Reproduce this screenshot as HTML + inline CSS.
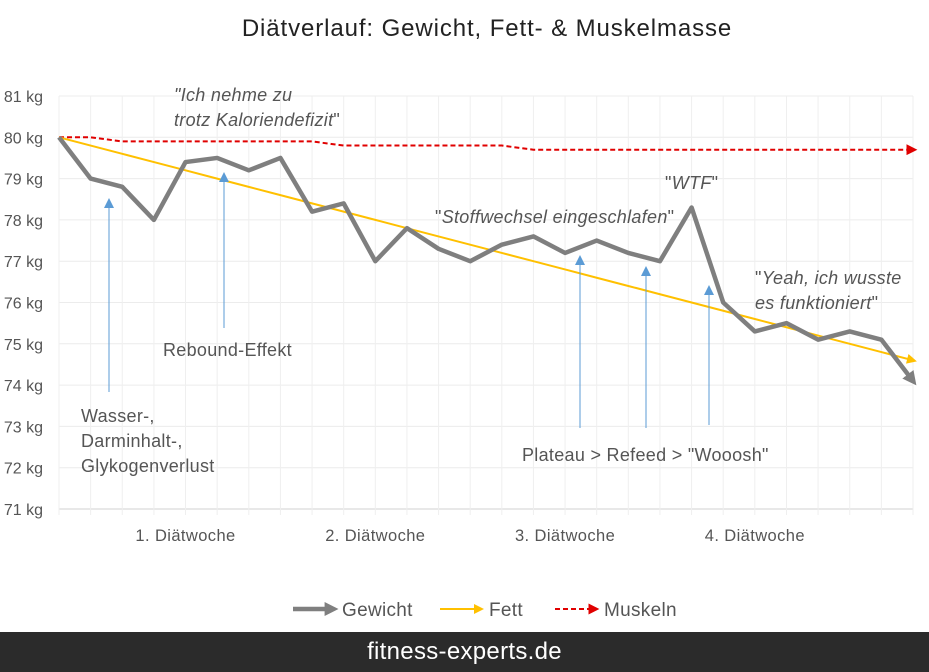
<!DOCTYPE html>
<html><head><meta charset="utf-8"><style>
body{margin:0;background:#fff;font-family:"Liberation Sans",sans-serif}
#wrap{position:relative;width:929px;height:672px;overflow:hidden}
svg text{font-family:"Liberation Sans",sans-serif}
#footer{position:absolute;left:0;top:632px;width:929px;height:40px;background:#2b2b2b;color:#fff;font-size:24px;text-align:center;line-height:40px;letter-spacing:0.3px}
</style></head><body>
<div id="wrap">
<svg id="chart" width="929" height="632"></svg>
<div id="footer">fitness-experts.de</div>
</div>
<script>
const yTicks=[71,72,73,74,75,76,77,78,79,80,81];
const weekLabels=["1. Diätwoche","2. Diätwoche","3. Diätwoche","4. Diätwoche"];
const weekIdx=[4,10,16,22];
const gewicht=[80,79,78.8,78,79.4,79.5,79.2,79.5,78.2,78.4,77,77.8,77.3,77,77.4,77.6,77.2,77.5,77.2,77,78.3,76,75.3,75.5,75.1,75.3,75.1,74.1];
const fett=[80,79.8,79.6,79.4,79.2,79,78.8,78.6,78.4,78.2,78,77.8,77.6,77.4,77.2,77,76.8,76.6,76.4,76.2,76,75.8,75.6,75.4,75.2,75,74.8,74.6];
const muskeln=[80,80,79.9,79.9,79.9,79.9,79.9,79.9,79.9,79.8,79.8,79.8,79.8,79.8,79.8,79.7,79.7,79.7,79.7,79.7,79.7,79.7,79.7,79.7,79.7,79.7,79.7,79.7];
const x0=59,x1=913,y0=509,y1=96;
const n=gewicht.length;
const xs=i=>x0+(x1-x0)*i/(n-1);
const ys=v=>y0-(v-71)/(81-71)*(y0-y1);
const svg=document.getElementById('chart');
const NS='http://www.w3.org/2000/svg';
function mk(t,a,p){const e=document.createElementNS(NS,t);for(const k in a)e.setAttribute(k,a[k]);(p||svg).appendChild(e);return e;}
const defs=mk('defs',{});
function marker(id,c,s){const m=mk('marker',{id:id,markerWidth:s,markerHeight:s,refX:s*0.6,refY:s/2,orient:'auto',markerUnits:'userSpaceOnUse'},defs);mk('path',{d:`M0,0L${s},${s/2}L0,${s}Z`,fill:c},m);}
marker('mg','#7f7f7f',14);marker('my','#ffc000',10);marker('mr','#e00000',11);marker('mb','#5b9bd5',10);
let t=mk('text',{x:487,y:36,'font-size':24,fill:'#222','text-anchor':'middle','letter-spacing':'0.9'});t.textContent='Diätverlauf: Gewicht, Fett- & Muskelmasse';

yTicks.forEach(v=>{const l=mk('line',{x1:x0,x2:x1,y1:ys(v),y2:ys(v),stroke:v===71?'#d0d0d0':'#ececec'});

const tx=mk('text',{x:43,y:ys(v)+6,'font-size':16,fill:'#555','text-anchor':'end'});tx.textContent=v+' kg';
});
for(let i=0;i<n;i++){const l=mk('line',{x1:xs(i),x2:xs(i),y1:y1,y2:y0+6,stroke:'#efefef'});
}
weekLabels.forEach((w,k)=>{const tx=mk('text',{x:xs(weekIdx[k]),y:541,'font-size':16.5,fill:'#555','text-anchor':'middle','letter-spacing':'0.4'});tx.textContent=w;
});
function pts(a){return a.map((v,i)=>xs(i)+','+ys(v)).join(' ');}
let p=mk('polyline',{points:pts(muskeln),fill:'none',stroke:'#e00000','stroke-width':2,'stroke-dasharray':'5,3','marker-end':'url(#mr)'});

p=mk('polyline',{points:pts(fett),fill:'none',stroke:'#ffc000','stroke-width':2,'marker-end':'url(#my)'});

p=mk('polyline',{points:pts(gewicht),fill:'none',stroke:'#7f7f7f','stroke-width':4.5,'stroke-linejoin':'round','marker-end':'url(#mg)'});

[[109,392,196],[224,328,170],[580,428,253],[646,428,264],[709,425,283]].forEach(a=>{
const l=mk('line',{x1:a[0],y1:a[1],x2:a[0],y2:a[2]+6,stroke:'#5b9bd5','stroke-width':1,'marker-end':'url(#mb)'});
});
function txt(x,y,s,it,name){const e=mk('text',{x:x,y:y,'font-size':18,fill:'#555','letter-spacing':'0.3'});if(it)e.setAttribute('font-style','italic');e.innerHTML=s;
}
txt(174,101,'"Ich nehme zu','1','annotation-ich-nehme-zu');
txt(174,126,'trotz Kaloriendefizit<tspan font-style="normal">"</tspan>','1','annotation-ich-nehme-zu-2');
txt(435,223,'<tspan font-style="normal">"</tspan>Stoffwechsel eingeschlafen<tspan font-style="normal">"</tspan>','1','annotation-stoffwechsel');
txt(665,189,'<tspan font-style="normal">"</tspan>WTF<tspan font-style="normal">"</tspan>','1','annotation-wtf');
txt(755,284,'<tspan font-style="normal">"</tspan>Yeah, ich wusste','1','annotation-yeah');
txt(755,309,'es funktioniert<tspan font-style="normal">"</tspan>','1','annotation-yeah-2');
txt(163,356,'Rebound-Effekt',0,'annotation-rebound');
txt(81,422,'Wasser-,',0,'annotation-wasser');
txt(81,447,'Darminhalt-,',0,'annotation-wasser-2');
txt(81,472,'Glykogenverlust',0,'annotation-wasser-3');
txt(522,461,'Plateau &gt; Refeed  &gt; "Wooosh"',0,'annotation-plateau');
function leg(x,c,w,dash,mid,label,name){const g=mk('g',{});
const a={x1:x,x2:x+40,y1:609,y2:609,stroke:c,'stroke-width':w,'marker-end':'url(#'+mid+')'};if(dash)a['stroke-dasharray']=dash;mk('line',a,g);
const tx=mk('text',{x:x+49,y:616,'font-size':19,fill:'#555','letter-spacing':'0.3'},g);tx.textContent=label;}
leg(293,'#7f7f7f',4.5,null,'mg','Gewicht','legend-gewicht');
leg(440,'#ffc000',2,null,'my','Fett','legend-fett');
leg(555,'#e00000',2,'5,3','mr','Muskeln','legend-muskeln');
</script>
</body></html>
